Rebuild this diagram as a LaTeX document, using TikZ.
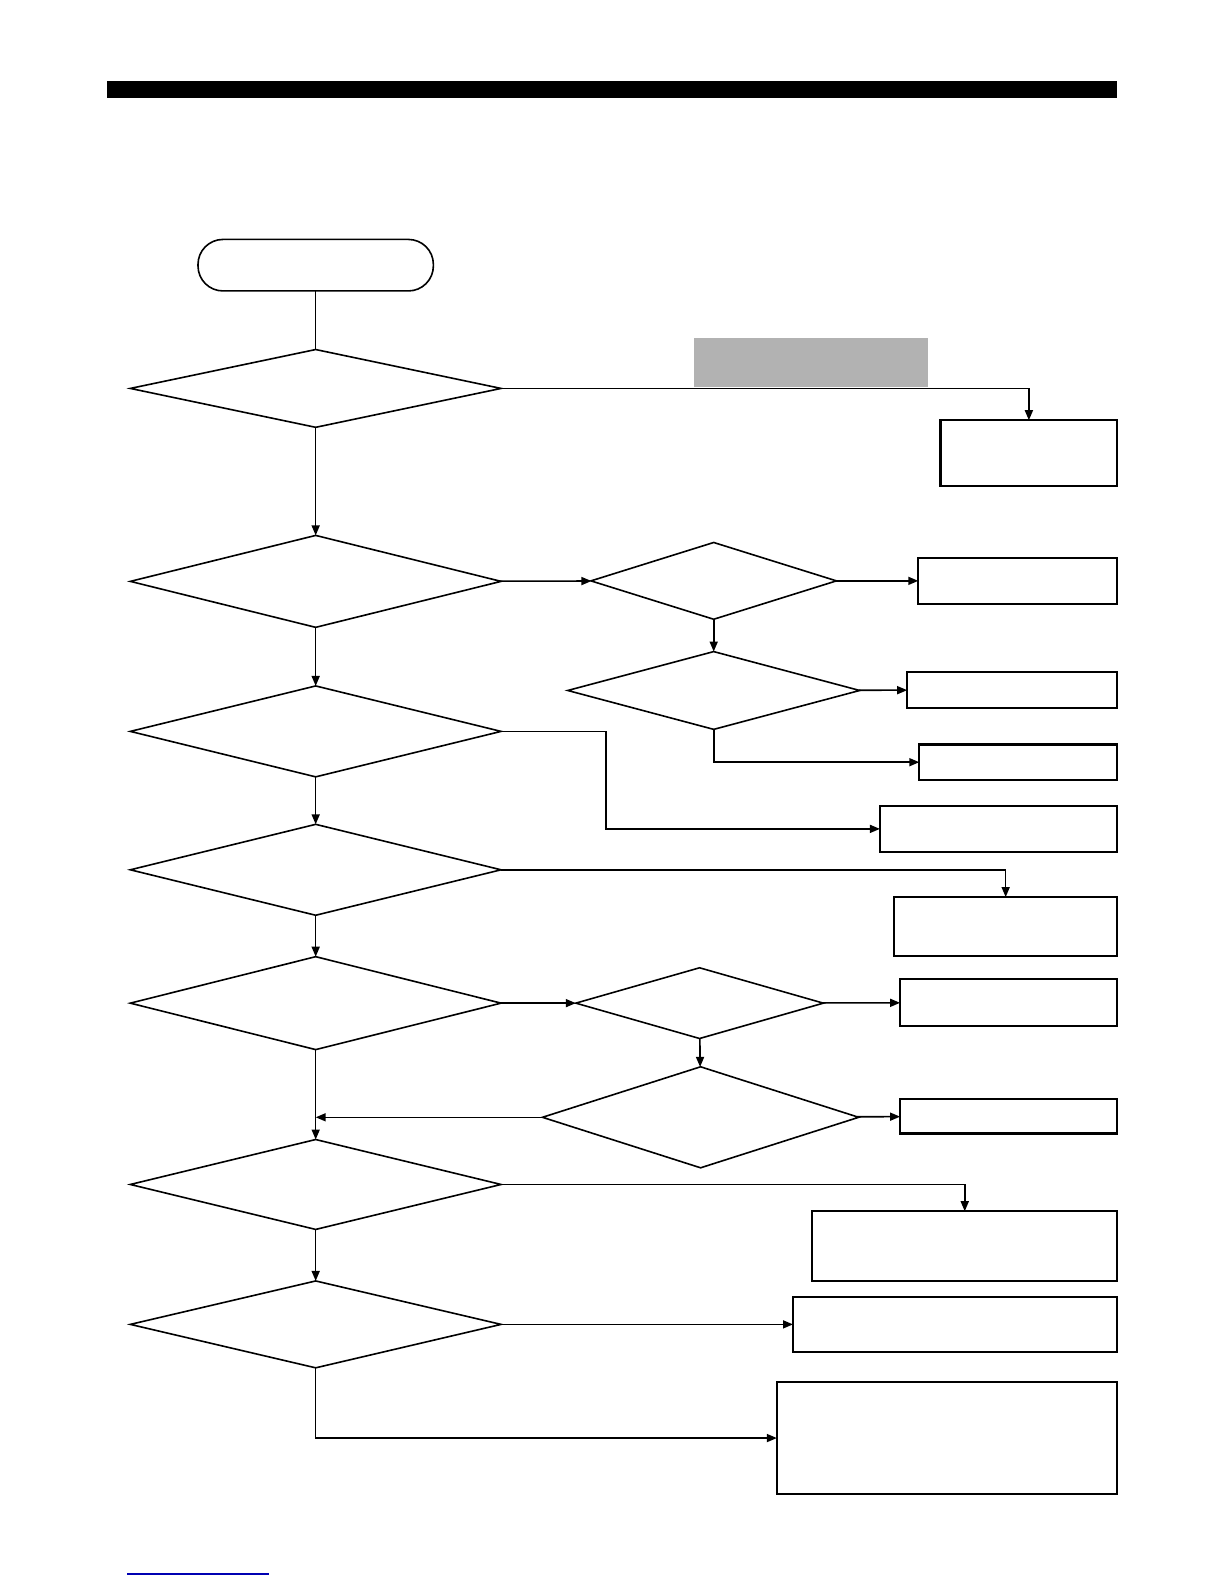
\documentclass[tikz,border=0pt]{standalone}
\usetikzlibrary{arrows.meta,shapes.geometric}
\newcommand{\pxu}{0.505pt}
\begin{document}
\begin{tikzpicture}[x=0.505pt,y=-0.505pt,>={Triangle[length=5pt,width=4pt]},line width=0.8pt,
 decision/.style 2 args={draw,diamond,inner sep=0pt,outer sep=0pt,minimum width=#1*\pxu,minimum height=#2*\pxu},
 result/.style 2 args={draw,rectangle,line width=1.1pt,inner sep=0pt,outer sep=0pt,minimum width=#1*\pxu,minimum height=#2*\pxu}]
\useasboundingbox (0,0) rectangle (1212,1568);
\fill (106,80) rectangle (1106,97);
\fill[black!30] (687,335) rectangle (919,383);
% main column
\node[draw,rectangle,rounded corners=12.5pt,inner sep=0pt,outer sep=0pt,minimum width=233*\pxu,minimum height=51*\pxu] (start) at (312.5,262.5) {};
\node[decision={367}{77}] (d1) at (312.5,384.5) {};
\node[decision={367}{91}] (d2) at (312.5,575.5) {};
\node[decision={367}{90}] (d5) at (312.5,724) {};
\node[decision={367}{90}] (d6) at (312.5,861) {};
\node[decision={367}{92}] (d7) at (312.5,993) {};
\node[decision={367}{89}] (d10) at (312.5,1172.5) {};
\node[decision={367}{86}] (d11) at (312.5,1311) {};
% side checks
\node[decision={243}{76}] (d3) at (706.5,575) {};
\node[decision={289}{77}] (d4) at (706.5,683.5) {};
\node[decision={245}{70}] (d8) at (692.5,993) {};
\node[decision={313}{100}] (d9) at (693.5,1106) {};
% outcomes
\node[result={175}{65}] (b1) at (1018.5,448.5) {};
\node[result={197}{46}] (b2) at (1007.5,575) {};
\node[result={208}{36}] (b3) at (1002,683) {};
\node[result={196}{35}] (b4) at (1008,754.5) {};
\node[result={235}{45}] (b5) at (988.5,820.5) {};
\node[result={221}{58}] (b6) at (995.5,917) {};
\node[result={215}{47}] (b7) at (998.5,992.5) {};
\node[result={215}{34}] (b8) at (998.5,1105) {};
\node[result={302}{69}] (b9) at (955,1233.5) {};
\node[result={321}{54}] (b10) at (945.5,1311) {};
\node[result={337}{111}] (b11) at (937.5,1423.5) {};
\coordinate (join) at (312.5,1106);
% connectors
\draw (start) -- (d1);
\draw[->] (d1.east) -| (b1.north);
\draw[->] (d1) -- (d2);
\draw[->] (d2) -- (d3);
\draw[->] (d3) -- (b2);
\draw[->] (d3) -- (d4);
\draw[->] (d4) -- (b3);
\draw[->] (d4.south) |- (b4.west);
\draw[->] (d2) -- (d5);
\draw[->] (d5.east) -- ++(104,0) |- (b5.west);
\draw[->] (d5) -- (d6);
\draw[->] (d6.east) -| (b6.north);
\draw[->] (d6) -- (d7);
\draw[->] (d7) -- (d8);
\draw[->] (d8) -- (b7);
\draw[->] (d8) -- (d9);
\draw[->] (d9) -- (b8);
\draw[->] (d9.west) -- (join);
\draw[->] (d7) -- (d10);
\draw[->] (d10.east) -| (b9.north);
\draw[->] (d10) -- (d11);
\draw[->] (d11) -- (b10);
\draw[->] (d11.south) |- (b11.west);
\draw[blue!70!black,line width=0.6pt] (126,1558) -- (266,1558);
\end{tikzpicture}
\end{document}
